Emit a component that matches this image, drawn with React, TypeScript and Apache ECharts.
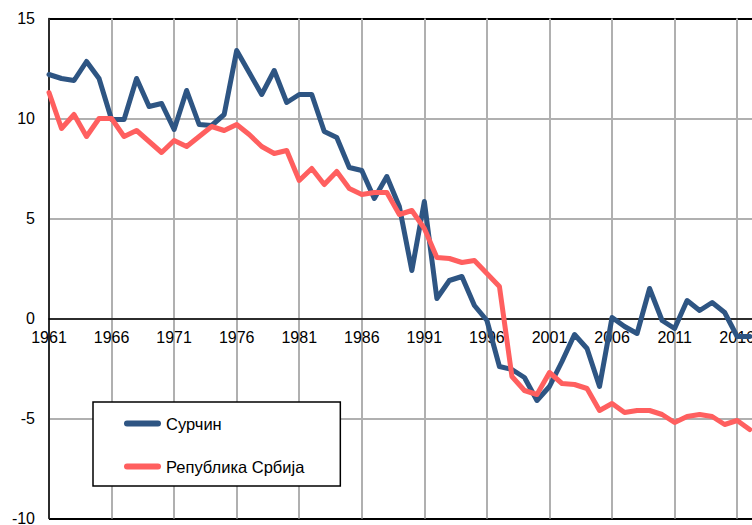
import React, { useEffect, useRef } from "react";
import * as echarts from "echarts";

const years: string[] = [];
for (let y = 1961; y <= 2020; y++) years.push(String(y));

const surcin = [
  12.2, 12.0, 11.9, 12.85, 12.0, 9.95, 9.95, 12.0, 10.6, 10.75,
  9.45, 11.4, 9.7, 9.65, 10.2, 13.4, 12.3, 11.2, 12.4, 10.8,
  11.2, 11.2, 9.35, 9.05, 7.55, 7.4, 6.0, 7.1, 5.6, 2.4,
  5.85, 1.0, 1.9, 2.1, 0.65, -0.1, -2.4, -2.55, -2.95, -4.1,
  -3.4, -2.15, -0.8, -1.5, -3.4, 0.05, -0.4, -0.75, 1.5, -0.1,
  -0.5, 0.9, 0.4, 0.8, 0.3, -0.9, -0.9,
];

const srbija = [
  11.3, 9.5, 10.2, 9.1, 10.0, 10.0, 9.1, 9.4, 8.85, 8.3,
  8.9, 8.6, 9.1, 9.6, 9.4, 9.7, 9.2, 8.6, 8.25, 8.4,
  6.9, 7.5, 6.7, 7.35, 6.5, 6.2, 6.3, 6.3, 5.2, 5.4,
  4.5, 3.05, 3.0, 2.8, 2.9, 2.25, 1.6, -2.9, -3.6, -3.8,
  -2.7, -3.25, -3.3, -3.5, -4.6, -4.25, -4.7, -4.6, -4.6, -4.8,
  -5.2, -4.9, -4.8, -4.9, -5.3, -5.1, -5.55,
];

const seriesNames = ["Сурчин", "Република Србија"];
const seriesColors = ["#2E5583", "#FF5F5F"];

const FONT = "'Liberation Sans', Arial, sans-serif";
const GRAY = "#B0B0B0";

export default function App() {
  const ref = useRef<HTMLDivElement>(null);
  useEffect(() => {
    if (!ref.current) return;
    const chart = echarts.init(ref.current, null, { renderer: "svg" });
    const capsule = "path://M3,0 L34,0 A3,3 0 0 1 34,6 L3,6 A3,3 0 0 1 3,0 Z";
    chart.setOption({
      animation: false,
      backgroundColor: "#ffffff",
      textStyle: { fontFamily: FONT },
      grid: {
        left: 49,
        top: 18.5,
        height: 500,
        width: 59 * 12.512,
        containLabel: false,
        outerBoundsMode: "none",
      },
      legend: {
        orient: "vertical",
        left: 93,
        top: 402,
        padding: [13, 36, 11, 31],
        itemGap: 26,
        itemWidth: 37,
        itemHeight: 6,
        icon: capsule,
        backgroundColor: "#ffffff",
        borderColor: "#000000",
        borderWidth: 1.5,
        borderRadius: 0,
        textStyle: { fontSize: 16.5, color: "#000", fontFamily: FONT, lineHeight: 16 },
        data: seriesNames,
      },
      xAxis: {
        type: "category",
        data: years,
        boundaryGap: false,
        position: "bottom",
        offset: -200,
        axisLine: { onZero: false, lineStyle: { color: "#000", width: 1.5 } },
        axisTick: { show: false },
        axisLabel: { interval: 4, fontSize: 16, color: "#000", margin: 11, fontFamily: FONT },
        splitLine: { show: true, interval: 4, lineStyle: { color: GRAY, width: 2 } },
      },
      yAxis: {
        type: "value",
        min: -10,
        max: 15,
        interval: 5,
        axisLine: { show: true, lineStyle: { color: "#000", width: 1.5 } },
        axisTick: { show: false },
        axisLabel: { fontSize: 16, color: "#000", margin: 14, fontFamily: FONT },
        splitLine: {
          show: true,
          lineStyle: { color: ["#000", GRAY, GRAY, GRAY, GRAY, "#000"], width: 2 },
        },
      },
      series: [
        {
          name: seriesNames[0],
          type: "line",
          data: surcin,
          color: seriesColors[0],
          symbol: "none",
          itemStyle: { color: seriesColors[0] },
          lineStyle: { width: 5, color: seriesColors[0], cap: "round", join: "round" },
        },
        {
          name: seriesNames[1],
          type: "line",
          data: srbija,
          color: seriesColors[1],
          symbol: "none",
          itemStyle: { color: seriesColors[1] },
          lineStyle: { width: 5, color: seriesColors[1], cap: "round", join: "round" },
        },
      ],
    });
    return () => chart.dispose();
  }, []);
  return (
    <div
      style={{
        position: "fixed",
        left: 0,
        top: 0,
        width: 752,
        height: 525,
        overflow: "hidden",
        background: "#fff",
      }}
    >
      <div ref={ref} style={{ width: 820, height: 525 }} />
    </div>
  );
}
